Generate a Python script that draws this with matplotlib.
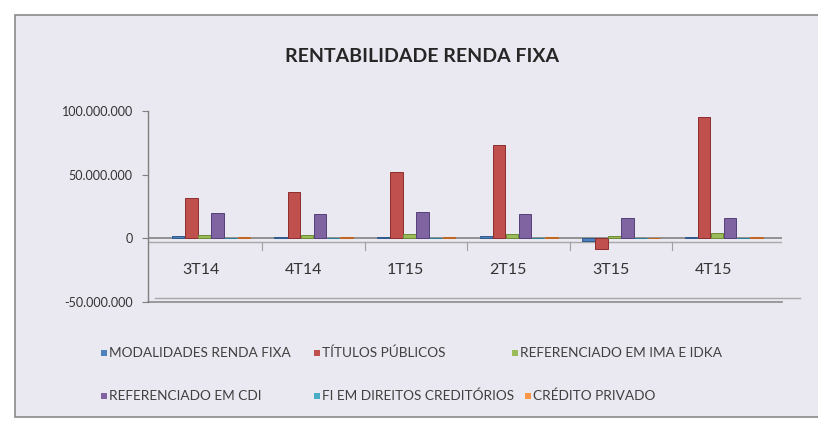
import numpy as np
import matplotlib.pyplot as plt
from matplotlib.patches import Rectangle
from matplotlib.ticker import FuncFormatter

plt.rcParams['font.family'] = ['Lato', 'DejaVu Sans']

# dados
trimestres = ['3T14', '4T14', '1T15', '2T15', '3T15', '4T15']
series = ['MODALIDADES RENDA FIXA', 'TÍTULOS PÚBLICOS', 'REFERENCIADO EM IMA E IDKA',
          'REFERENCIADO EM CDI', 'FI EM DIREITOS CREDITÓRIOS', 'CRÉDITO PRIVADO']
modalidades = [1.5e6, 1.0e6, 1.0e6, 1.5e6, -2.0e6, 1.0e6]
titulos = [32e6, 36e6, 52e6, 73e6, -8e6, 95e6]
ima_idka = [3.0e6, 3.0e6, 3.5e6, 3.5e6, 2.0e6, 4.0e6]
cdi = [20e6, 19e6, 21e6, 19e6, 16e6, 16e6]
fidc = [0.5e6, 0.5e6, 0.5e6, 0.5e6, 0.5e6, 0.5e6]
credito = [1.0e6, 0.8e6, 0.8e6, 1.0e6, 0.5e6, 1.2e6]
cores = ['#4F81BD', '#C0504D', '#9BBB59', '#8064A2', '#4BACC6', '#F79646']
bordas = ['#2F5A8C', '#8C2E2B', '#6C8A37', '#54407A', '#2B7F96', '#C2661E']

valores = [modalidades, titulos, ima_idka, cdi, fidc, credito]

fig = plt.figure(figsize=(8.18, 4.21), dpi=100)
fig.patch.set_facecolor('white')

# fundo da area do grafico
fig.patches.append(Rectangle((15/818, 4/421), 810/818, 402/421, transform=fig.transFigure,
                             facecolor='#EAE8F0', edgecolor='#8A8A8A', lw=1.2, zorder=-5))

ax = fig.add_axes([148/818, 119/421, 634/818, 191/421])
ax.set_facecolor('none')
ax.set_zorder(2)

x = np.arange(len(trimestres))
passo = 0.128
larg = 0.122
for k in range(len(series)):
    ax.bar(x + (k - 2.5) * passo, valores[k], width=larg, color=cores[k],
           edgecolor=bordas[k], linewidth=0.7, label=series[k], zorder=3)

ax.set_ylim(-50e6, 100e6)
ax.set_xlim(-0.615, 5.57)
ax.set_yticks([-50e6, 0, 50e6, 100e6])
ax.yaxis.set_major_formatter(FuncFormatter(lambda v, p: '{:,.0f}'.format(v).replace(',', '.')))
ax.tick_params(axis='y', length=4, width=0.8, color='#808080', pad=7,
               labelsize=9, labelcolor='#333333')
ax.set_xticks([])
for s in ['top', 'right', 'bottom']:
    ax.spines[s].set_visible(False)
ax.spines['left'].set_color('#808080')
ax.spines['left'].set_linewidth(1.0)

# linha do zero (laje 3D)
ax.axhline(0, color='#8C8C8C', lw=1.3, zorder=2)
ax.axhline(-3e6, color='#A8A8A8', lw=1.0, zorder=2)
for xi in x[:-1] + 0.5:
    ax.plot([xi, xi], [-3e6, -9e6], color='#A0A0A0', lw=0.8, zorder=2)

# piso
ax.plot([-0.615, 5.57], [-50e6, -50e6], color='#8C8C8C', lw=1.2, clip_on=False)
ax.plot([-0.55, 5.75], [-47e6, -47e6], color='#A8A8A8', lw=1.0, clip_on=False)

for xi, t in zip(x, trimestres):
    ax.text(xi - 0.1, -25e6, t, ha='center', va='center', fontsize=11.5, color='#333333')

fig.text(422/818, 1 - 57/421, 'RENTABILIDADE RENDA FIXA', ha='center', va='center',
         fontsize=14, fontweight='bold', color='#262626')

# legenda
pos_leg = [(104, 353), (317, 353), (515, 353), (104, 396), (317, 396), (528, 396)]
for k, (px, py) in enumerate(pos_leg):
    fig.patches.append(Rectangle(((px - 3) / 818, 1 - (py + 3) / 421), 6/818, 6/421,
                                 transform=fig.transFigure, facecolor=cores[k],
                                 edgecolor='none'))
    fig.text((px + 5) / 818, 1 - py / 421, series[k], ha='left', va='center',
             fontsize=9.8, color='#404040')

fig.savefig('out.png', dpi=100)
